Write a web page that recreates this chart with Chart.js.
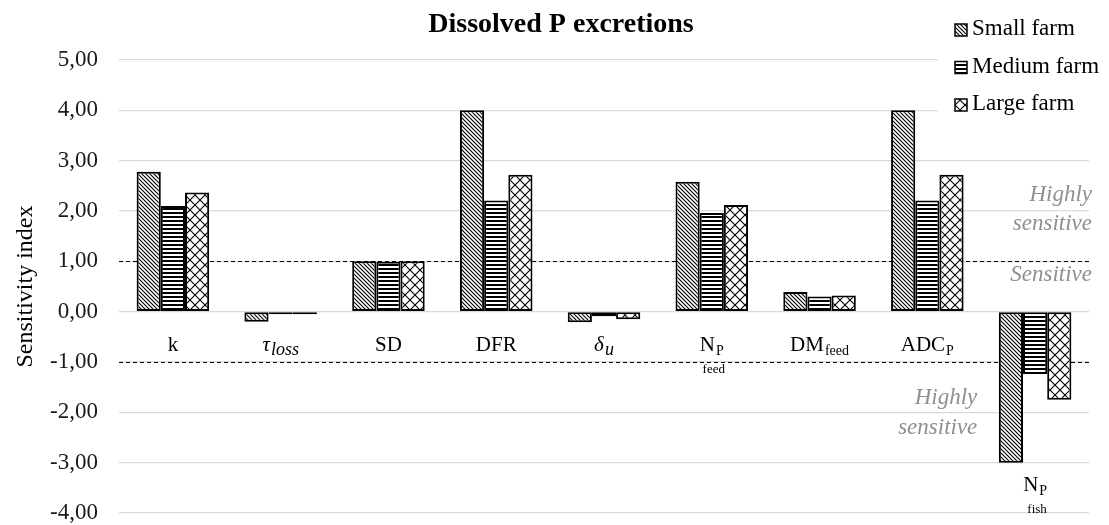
<!DOCTYPE html>
<html>
<head>
<meta charset="utf-8">
<script src="https://cdn.jsdelivr.net/npm/chart.js@4.4.1/dist/chart.umd.min.js"></script>
<style>
  html, body { margin: 0; padding: 0; background: #fff; }
  canvas { display: block; }
</style>
</head>
<body>
<canvas id="dissolved-p" width="1109" height="525"></canvas>
<script>
/* data */
const categories = ["k", "τloss", "SD", "DFR", "δu", "NP feed", "DMfeed", "ADCP", "NP fish"];
const catMain  = ["k", "τ", "SD", "DFR", "δ", "N", "DM", "ADC", "N"];
const catSub   = ["", "loss", "", "", "u", "P", "feed", "P", "P"];
const catUnder = ["", "", "", "", "", "feed", "", "", "fish"];
const catItalic = [false, true, false, false, true, false, false, false, false];

const smallFarm  = [2.78, -0.20, 1.00, 4.00, -0.21, 2.58, 0.39, 4.00, -3.00];
const mediumFarm = [2.10, -0.05, 0.99, 2.21, -0.09, 1.96, 0.30, 2.21, -1.24];
const largeFarm  = [2.37, -0.05, 1.00, 2.72, -0.15, 2.12, 0.32, 2.72, -1.75];

const yMin = -4, yMax = 5, yStep = 1;
const thresholds = [1, -1];

const annotations = [
    { text: "Highly", y: 2.31, right: "edge" },
    { text: "sensitive", y: 1.75, right: "edge" },
    { text: "Sensitive", y: 0.72, right: "edge" },
    { text: "Highly", y: -1.71, right: 7 },
    { text: "sensitive", y: -2.31, right: 7 },
];

const FONT = '"Liberation Serif", "Times New Roman", serif';

// hatch patterns
function makePattern(kind) {
    const c = document.createElement("canvas");
    const ctx = c.getContext("2d");
    if (kind === "diag") {
        c.width = 4; c.height = 4;
        ctx.fillStyle = "#fff"; ctx.fillRect(0, 0, 4, 4);
        ctx.strokeStyle = "#000"; ctx.lineWidth = 1.1;
        ctx.beginPath();
        ctx.moveTo(-1, -1); ctx.lineTo(5, 5);
        ctx.moveTo(3, -1); ctx.lineTo(5, 1);
        ctx.moveTo(-1, 3); ctx.lineTo(1, 5);
        ctx.stroke();
    } else if (kind === "horiz") {
        c.width = 4; c.height = 4;
        ctx.fillStyle = "#fff"; ctx.fillRect(0, 0, 4, 4);
        ctx.fillStyle = "#000"; ctx.fillRect(0, 0, 4, 2);
    } else {
        c.width = 10; c.height = 10;
        ctx.fillStyle = "#fff"; ctx.fillRect(0, 0, 10, 10);
        ctx.strokeStyle = "#000"; ctx.lineWidth = 1.1;
        ctx.beginPath();
        ctx.moveTo(0, 0); ctx.lineTo(10, 10);
        ctx.moveTo(10, 0); ctx.lineTo(0, 10);
        ctx.stroke();
    }
    return ctx.createPattern(c, "repeat");
}
const patSmall = makePattern("diag");
const patMedium = makePattern("horiz");
const patLarge = makePattern("cross");

const legendItems = [
    { label: "Small farm", pat: patSmall },
    { label: "Medium farm", pat: patMedium },
    { label: "Large farm", pat: patLarge },
];

const overlayPlugin = {
    id: "overlay",
    beforeDatasetsDraw(chart) {
        const { ctx, chartArea, scales: { y } } = chart;
        ctx.save();
        ctx.strokeStyle = "#000";
        ctx.lineWidth = 1;
        ctx.setLineDash([4, 3]);
        thresholds.forEach(v => {
            const py = Math.round(y.getPixelForValue(v)) + 0.5;
            ctx.beginPath();
            ctx.moveTo(chartArea.left, py);
            ctx.lineTo(chartArea.right + 3, py);
            ctx.stroke();
        });
        ctx.restore();
    },
    afterDraw(chart) {
        const { ctx, chartArea, scales: { x, y } } = chart;
        ctx.save();

        // category labels
        ctx.fillStyle = "#000";
        ctx.textBaseline = "alphabetic";
        categories.forEach((c, i) => {
            const cx = x.getPixelForValue(i);
            const lowest = Math.min(smallFarm[i], mediumFarm[i], largeFarm[i]);
            let base = y.getPixelForValue(0) + 39;
            if (lowest < -1) base = y.getPixelForValue(lowest) + 28;
            const it = catItalic[i] ? "italic " : "";
            const mainFont = it + "21px " + FONT;
            const subFont = it + (catItalic[i] ? "18px " : "14px ") + FONT;
            ctx.font = mainFont;
            const w1 = ctx.measureText(catMain[i]).width;
            ctx.font = subFont;
            const w2 = catSub[i] ? ctx.measureText(catSub[i]).width + 1 : 0;
            const left = cx - (w1 + w2) / 2;
            ctx.textAlign = "left";
            ctx.font = mainFont;
            ctx.fillText(catMain[i], left, base);
            if (catSub[i]) {
                ctx.font = subFont;
                ctx.fillText(catSub[i], left + w1 + 1, base + 4);
            }
            if (catUnder[i]) {
                ctx.font = "13px " + FONT;
                ctx.textAlign = "center";
                ctx.fillText(catUnder[i], cx + 2, base + 22);
            }
        });

        // sensitivity notes
        ctx.fillStyle = "#8f8f8f";
        ctx.font = "italic 23px " + FONT;
        ctx.textAlign = "right";
        ctx.textBaseline = "middle";
        annotations.forEach(a => {
            const rx = a.right === "edge" ? chartArea.right + 3 : x.getPixelForValue(a.right) + 50;
            ctx.fillText(a.text, rx, y.getPixelForValue(a.y));
        });

        // title
        ctx.fillStyle = "#000";
        ctx.font = "bold 28px " + FONT;
        ctx.textAlign = "center";
        ctx.textBaseline = "alphabetic";
        ctx.fillText("Dissolved P excretions", 561, 32);

        // legend
        ctx.fillStyle = "#fff";
        ctx.fillRect(938, 0, chart.width - 938, 124);
        ctx.font = "23px " + FONT;
        ctx.textAlign = "left";
        legendItems.forEach((it, i) => {
            const base = 35 + i * 37.5;
            ctx.fillStyle = it.pat;
            ctx.fillRect(955, base - 11, 12, 12);
            ctx.strokeStyle = "#000";
            ctx.lineWidth = 1.5;
            ctx.strokeRect(955, base - 11, 12, 12);
            ctx.fillStyle = "#000";
            ctx.fillText(it.label, 972, base);
        });
        ctx.restore();
    }
};

const barStyle = {
    borderColor: "#000",
    borderWidth: 2,
    borderSkipped: false,
    categoryPercentage: 0.673,
    barPercentage: 1.0,
};

new Chart(document.getElementById("dissolved-p"), {
    type: "bar",
    data: {
        labels: categories,
        datasets: [
            { label: "Small farm", data: smallFarm, backgroundColor: patSmall, ...barStyle },
            { label: "Medium farm", data: mediumFarm, backgroundColor: patMedium, ...barStyle },
            { label: "Large farm", data: largeFarm, backgroundColor: patLarge, ...barStyle },
        ],
    },
    options: {
        responsive: false,
        animation: false,
        devicePixelRatio: 1,
        layout: { padding: { top: 60, right: 20, bottom: 12, left: 0 } },
        scales: {
            x: { display: false },
            y: {
                min: yMin,
                max: yMax,
                afterFit(scale) { scale.width = 119; },
                ticks: {
                    stepSize: yStep,
                    padding: 0,
                    color: "#1a1a1a",
                    font: { family: FONT, size: 23, lineHeight: 1.0 },
                    callback: v => v.toFixed(2).replace(".", ","),
                },
                grid: {
                    color: "#d9d9d9",
                    lineWidth: 1.3,
                    drawTicks: true,
                    tickLength: 21,
                    tickColor: "rgba(0,0,0,0)",
                },
                border: { display: false },
                title: {
                    display: true,
                    text: "Sensitivity index",
                    color: "#000",
                    font: { family: FONT, size: 24 },
                    padding: { top: 11, bottom: 0 },
                },
            },
        },
        plugins: {
            legend: { display: false },
            title: { display: false },
            tooltip: { enabled: false },
        },
    },
    plugins: [overlayPlugin],
});
</script>
</body>
</html>
